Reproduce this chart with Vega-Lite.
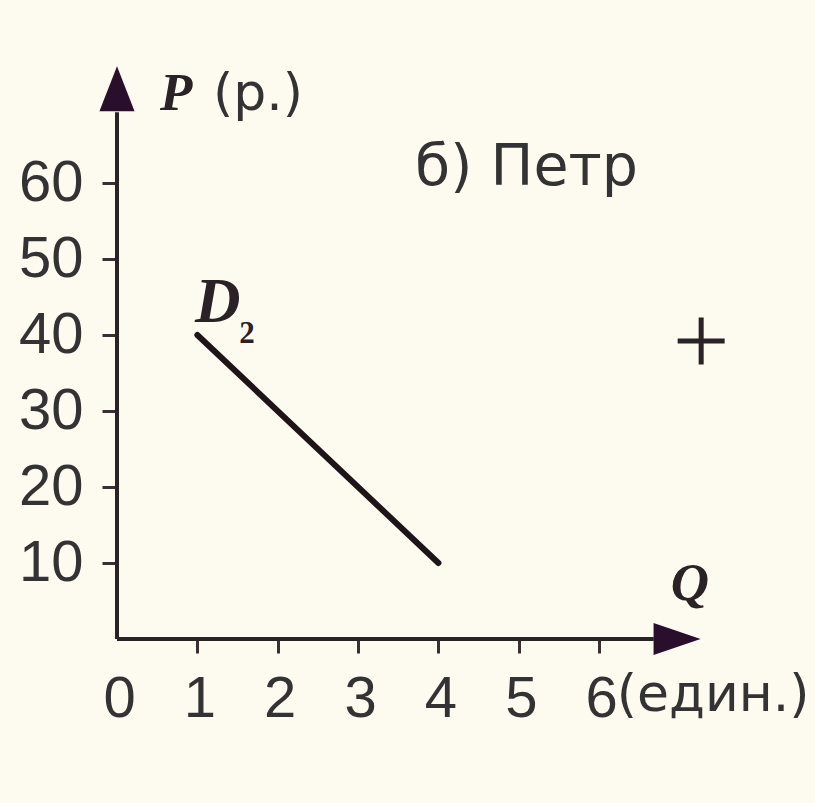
{
  "$schema": "https://vega.github.io/schema/vega-lite/v6.json",
  "width": 683,
  "height": 608,
  "autosize": {"type": "none"},
  "padding": {"left": 117, "top": 31, "right": 15, "bottom": 164},
  "background": "#fdfbf0",
  "config": {"view": {"stroke": null}},
  "layer": [
    {
      "data": {"values": [{"x": 0, "y": 0, "x2": 6.68, "y2": 0}, {"x": 0, "y": 0, "x2": 0, "y2": 69.3}]},
      "mark": {"type": "rule", "color": "#2b2226", "strokeWidth": 4},
      "encoding": {
        "x": {"field": "x", "type": "quantitative", "scale": {"domain": [0, 8.5], "nice": false, "zero": false},
          "axis": {"values": [0, 1, 2, 3, 4, 5, 6], "format": "d", "domain": false, "grid": false, "title": null,
            "tickSize": 14, "tickWidth": 3, "tickColor": "#3a3034",
            "tickOpacity": {"condition": {"test": "datum.value == 0", "value": 0}, "value": 1},
            "labelFont": "Liberation Sans", "labelFontSize": 58, "labelColor": "#333333",
            "labelPadding": 17, "labelOffset": 2, "labelFlush": false, "labelOverlap": false}},
        "y": {"field": "y", "type": "quantitative", "scale": {"domain": [0, 80], "nice": false, "zero": false},
          "axis": {"values": [10, 20, 30, 40, 50, 60], "format": "d", "domain": false, "grid": false, "title": null,
            "tickSize": 15, "tickWidth": 3, "tickColor": "#3a3034",
            "labelFont": "Liberation Sans", "labelFontSize": 58, "labelColor": "#333333",
            "labelPadding": 19, "labelFlush": false, "labelOverlap": false}},
        "x2": {"field": "x2"},
        "y2": {"field": "y2"}
      }
    },
    {
      "data": {"values": [{"Q": 1, "P": 40}, {"Q": 4, "P": 10}]},
      "mark": {"type": "line", "color": "#1f1519", "strokeWidth": 6, "strokeCap": "round"},
      "encoding": {
        "x": {"field": "Q", "type": "quantitative"},
        "y": {"field": "P", "type": "quantitative"}
      }
    },
    {
      "data": {"values": [{"x": 6.97, "y": 0}]},
      "mark": {"type": "point", "shape": "M -1 -0.68 L 1 0 L -1 0.68 Z", "size": 2209, "filled": true, "color": "#2a0f2c", "opacity": 1},
      "encoding": {
        "x": {"field": "x", "type": "quantitative"},
        "y": {"field": "y", "type": "quantitative"}
      }
    },
    {
      "data": {"values": [{"x": 0, "y": 72.4}]},
      "mark": {"type": "point", "shape": "M -0.78 1 L 0 -1 L 0.78 1 Z", "size": 2025, "filled": true, "color": "#2a0f2c", "opacity": 1},
      "encoding": {
        "x": {"field": "x", "type": "quantitative"},
        "y": {"field": "y", "type": "quantitative"}
      }
    },
    {
      "data": {"values": [{"x": 7.27, "y": 39.2}]},
      "mark": {"type": "point", "shape": "M -1 0 L 1 0 M 0 -1 L 0 1", "size": 2209, "filled": false, "color": "#2b2226", "strokeWidth": 5, "opacity": 1},
      "encoding": {
        "x": {"field": "x", "type": "quantitative"},
        "y": {"field": "y", "type": "quantitative"}
      }
    },
    {
      "data": {"values": [{"x": 0.535, "y": 69.6, "t": "P"}, {"x": 6.89, "y": 5.1, "t": "Q"}]},
      "mark": {"type": "text", "font": "Liberation Serif", "fontStyle": "italic", "fontWeight": "bold", "fontSize": 53, "color": "#2b2226", "align": "left", "baseline": "alphabetic"},
      "encoding": {
        "x": {"field": "x", "type": "quantitative"},
        "y": {"field": "y", "type": "quantitative"},
        "text": {"field": "t"}
      }
    },
    {
      "data": {"values": [{"x": 0.97, "y": 41.7, "t": "D"}]},
      "mark": {"type": "text", "font": "Liberation Serif", "fontStyle": "italic", "fontWeight": "bold", "fontSize": 63, "color": "#2b2226", "align": "left", "baseline": "alphabetic"},
      "encoding": {
        "x": {"field": "x", "type": "quantitative"},
        "y": {"field": "y", "type": "quantitative"},
        "text": {"field": "t"}
      }
    },
    {
      "data": {"values": [{"x": 1.52, "y": 39.0, "t": "2"}]},
      "mark": {"type": "text", "font": "Liberation Serif", "fontWeight": "bold", "fontSize": 31, "color": "#2b2226", "align": "left", "baseline": "alphabetic"},
      "encoding": {
        "x": {"field": "x", "type": "quantitative"},
        "y": {"field": "y", "type": "quantitative"},
        "text": {"field": "t"}
      }
    },
    {
      "data": {"values": [{"x": 1.195, "y": 69.6, "t": "(р.)"}]},
      "mark": {"type": "text", "font": "DejaVu Sans", "fontSize": 52, "color": "#333333", "align": "left", "baseline": "alphabetic"},
      "encoding": {
        "x": {"field": "x", "type": "quantitative"},
        "y": {"field": "y", "type": "quantitative"},
        "text": {"field": "t"}
      }
    },
    {
      "data": {"values": [{"x": 3.71, "y": 59.7, "t": "б)  Петр"}]},
      "mark": {"type": "text", "font": "DejaVu Sans", "fontSize": 57, "color": "#333333", "align": "left", "baseline": "alphabetic"},
      "encoding": {
        "x": {"field": "x", "type": "quantitative"},
        "y": {"field": "y", "type": "quantitative"},
        "text": {"field": "t"}
      }
    },
    {
      "data": {"values": [{"x": 6.22, "y": -9.5, "t": "(един.)"}]},
      "mark": {"type": "text", "font": "DejaVu Sans", "fontSize": 52, "color": "#333333", "align": "left", "baseline": "alphabetic"},
      "encoding": {
        "x": {"field": "x", "type": "quantitative"},
        "y": {"field": "y", "type": "quantitative"},
        "text": {"field": "t"}
      }
    }
  ]
}
